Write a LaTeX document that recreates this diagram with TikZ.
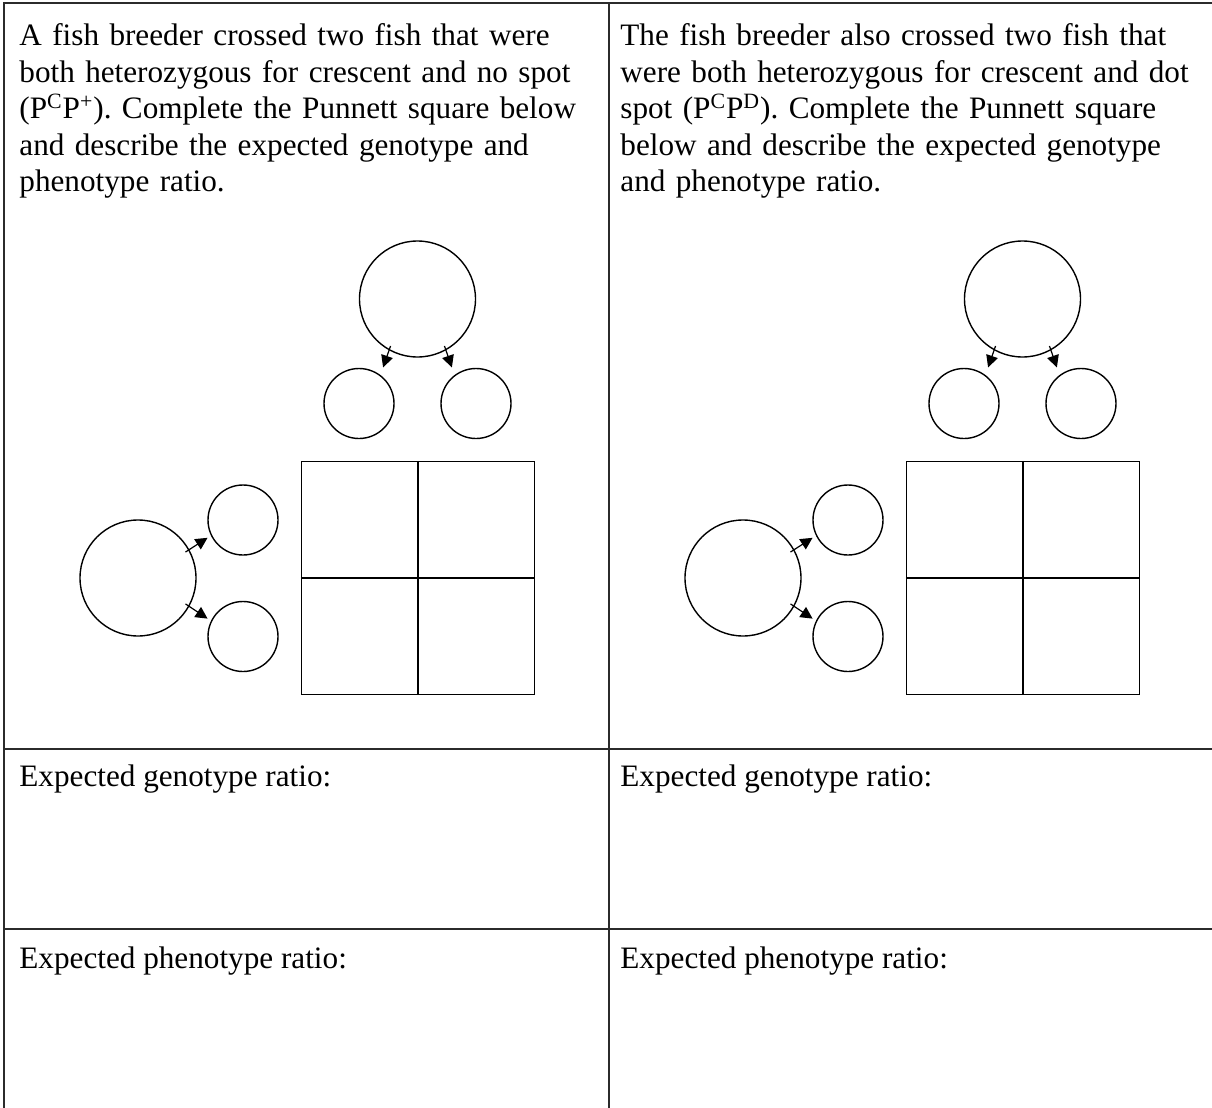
\documentclass[tikz,border=0pt]{standalone}
\usepackage{fontspec}
\setmainfont{Liberation Serif}
\usepackage{tikz}
\usetikzlibrary{arrows.meta, calc}
\usepackage{xcolor}
\definecolor{ruleline}{HTML}{2B2B2B}
\frenchspacing
\tikzset{
  tablerule/.style={draw=ruleline, line width=0.9pt},
  question/.style={anchor=base west, inner sep=0pt, text width=298pt, align=left, font=\fontsize{15.6pt}{18.25pt}\selectfont},
  answer/.style={anchor=base west, inner sep=0pt, font=\fontsize{15.6pt}{18.25pt}\selectfont},
  parent/.style={circle, draw, line width=0.7pt, minimum size=58pt, inner sep=0pt},
  gamete/.style={circle, draw, line width=0.7pt, minimum size=35pt, inner sep=0pt},
  punnett/.style={draw, line width=0.75pt, minimum size=116.5pt, inner sep=0pt},
  gam/.style={-{Triangle[length=6pt, width=6pt]}, line width=0.6pt, shorten <=-2.3pt, shorten >=2pt}
}

\begin{document}
\begin{tikzpicture}[x=0.5pt, y=-0.5pt]
  \useasboundingbox (0,0) rectangle (1212,1108);
  % table
  \draw[tablerule] (4,1108) -- (4,3) -- (1212,3);
  \draw[tablerule] (609,3) -- (609,1108);
  \draw[tablerule] (4,749) -- (1212,749);
  \draw[tablerule] (4,929) -- (1212,929);

  % questions
  \node[question] (qleft) at (19,46) {A fish breeder crossed two fish that were\\
    both heterozygous for crescent and no spot\\
    (P\textsuperscript{C}P\textsuperscript{+}). Complete the Punnett square below\\
    and describe the expected genotype and\\
    phenotype ratio.};
  \node[question] (qright) at (620,46) {The fish breeder also crossed two fish that\\
    were both heterozygous for crescent and dot\\
    spot (P\textsuperscript{C}P\textsuperscript{D}). Complete the Punnett square\\
    below and describe the expected genotype\\
    and phenotype ratio.};

  % punnett squares with gametes
  \foreach \dx/\side in {0/l,605/r}{
    \node[parent] (top\side) at (417.5+\dx,299) {};
    \node[gamete] (topa\side) at (359+\dx,403.5) {};
    \node[gamete] (topb\side) at (476+\dx,403.5) {};
    \node[parent] (left\side) at (138+\dx,578) {};
    \node[gamete] (lefta\side) at (243+\dx,520) {};
    \node[gamete] (leftb\side) at (243+\dx,636.5) {};
    \node[punnett] (sq\side) at (418+\dx,578) {};
    \draw[line width=0.75pt] (sq\side.north) -- (sq\side.south);
    \draw[line width=0.75pt] (sq\side.west) -- (sq\side.east);
    \draw[gam, shorten >=4pt] (top\side.-119) -- (topa\side.53);
    \draw[gam, shorten >=4pt] (top\side.-61) -- (topb\side.127);
    \draw[gam] (left\side.29) -- (lefta\side.206);
    \draw[gam] (left\side.-29) -- (leftb\side.154);
  }

  % ratios
  \node[answer] (genl) at (19,786) {Expected genotype ratio:};
  \node[answer] (genr) at (620,786) {Expected genotype ratio:};
  \node[answer] (phel) at (19,968) {Expected phenotype ratio:};
  \node[answer] (pher) at (620,968) {Expected phenotype ratio:};
\end{tikzpicture}
\end{document}
